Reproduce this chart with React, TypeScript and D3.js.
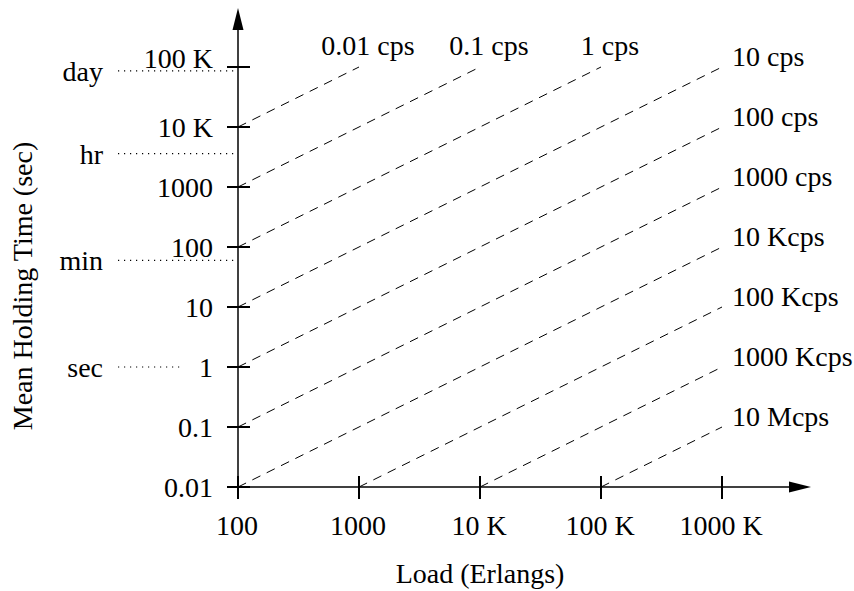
import React from 'react';
import * as d3 from 'd3';

// load (Erlangs) ticks and labels
const loadTicks = [100, 1000, 1e4, 1e5, 1e6];
const loadLabels = ['100', '1000', '10 K', '100 K', '1000 K'];

// mean holding time (sec) ticks and labels
const timeTicks = [0.01, 0.1, 1, 10, 100, 1000, 1e4, 1e5];
const timeLabels = ['0.01', '0.1', '1', '10', '100', '1000', '10 K', '100 K'];

// call rates (calls per second) drawn as dashed iso-lines
const rates = [0.01, 0.1, 1, 10, 100, 1000, 1e4, 1e5, 1e6, 1e7];
const rateLabels = [
  '0.01 cps', '0.1 cps', '1 cps', '10 cps', '100 cps', '1000 cps',
  '10 Kcps', '100 Kcps', '1000 Kcps', '10 Mcps',
];

// reference durations shown left of the y axis
const markerNames = ['day', 'hr', 'min', 'sec'];
const markerSeconds = [86400, 3600, 60, 1];

const W = 854;
const H = 591;
const FONT = '"Liberation Serif", "Times New Roman", serif';

const App = () => {
  const x = d3.scaleLog().domain([100, 1e6]).range([238, 722]);
  const y = d3.scaleLog().domain([0.01, 1e5]).range([487, 67]);

  const [x0, x1] = x.domain();
  const [y0, y1] = y.domain();
  const ax = x(x0);
  const ay = y(y0);

  const line = d3
    .line<[number, number]>()
    .x((d) => x(d[0]))
    .y((d) => y(d[1]));

  const isoLines = rates.map((r, i) => {
    const lStart = Math.max(x0, y0 * r);
    const lEnd = Math.min(x1, y1 * r);
    const pts: [number, number][] = [
      [lStart, lStart / r],
      [lEnd, lEnd / r],
    ];
    return { r, label: rateLabels[i], pts, atTop: lEnd < x1 };
  });

  return (
    <svg
      width={W}
      height={H}
      style={{ position: 'absolute', left: 0, top: 0, background: '#fff' }}
      fontFamily={FONT}
      fontSize={28}
    >
      {/* dotted duration markers */}
      {markerNames.map((name, i) => {
        const my = y(markerSeconds[i]);
        const endX = name === 'sec' ? ax - 55 : ax;
        return (
          <g key={name}>
            <line
              x1={118}
              x2={endX}
              y1={my}
              y2={my}
              stroke="#000"
              strokeWidth={1.2}
              strokeDasharray="1.2 4.8"
            />
            <text x={103} y={my + 10} textAnchor="end">
              {name}
            </text>
          </g>
        );
      })}

      {/* iso-rate dashed lines */}
      {isoLines.map((d) => {
        const end = d.pts[1];
        const ex = x(end[0]);
        const ey = y(end[1]);
        return (
          <g key={d.r}>
            <path d={line(d.pts) || ''} fill="none" stroke="#000" strokeWidth={1} strokeDasharray="9 7" />
            {d.atTop ? (
              <text x={ex + 9} y={55} textAnchor="middle">
                {d.label}
              </text>
            ) : (
              <text x={ex + 10} y={ey - 1}>
                {d.label}
              </text>
            )}
          </g>
        );
      })}

      {/* axes */}
      <line x1={ax} x2={ax} y1={ay} y2={28} stroke="#000" strokeWidth={1.5} />
      <path d={`M${ax},8 L${ax - 5.5},30 L${ax + 5.5},30 Z`} fill="#000" />
      <line x1={ax} x2={792} y1={ay} y2={ay} stroke="#000" strokeWidth={1.5} />
      <path d={`M811,${ay} L789,${ay - 5.5} L789,${ay + 5.5} Z`} fill="#000" />

      {timeTicks.map((t, i) => {
        const ty = y(t);
        const top = i === timeTicks.length - 1;
        return (
          <g key={t}>
            <line x1={ax - 11} x2={ax + 12} y1={ty} y2={ty} stroke="#000" strokeWidth={2} />
            <text x={213} y={top ? ty + 1 : ty + 10} textAnchor="end">
              {timeLabels[i]}
            </text>
          </g>
        );
      })}

      {loadTicks.map((l, i) => {
        const tx = x(l);
        return (
          <g key={l}>
            <line x1={tx} x2={tx} y1={ay - 11} y2={ay + 12} stroke="#000" strokeWidth={2} />
            <text x={tx - 1} y={535} textAnchor="middle">
              {loadLabels[i]}
            </text>
          </g>
        );
      })}

      <text x={(ax + x(x1)) / 2} y={583} textAnchor="middle">
        Load (Erlangs)
      </text>
      <text transform="translate(32,286) rotate(-90)" textAnchor="middle">
        Mean Holding Time (sec)
      </text>
    </svg>
  );
};

export default App;
